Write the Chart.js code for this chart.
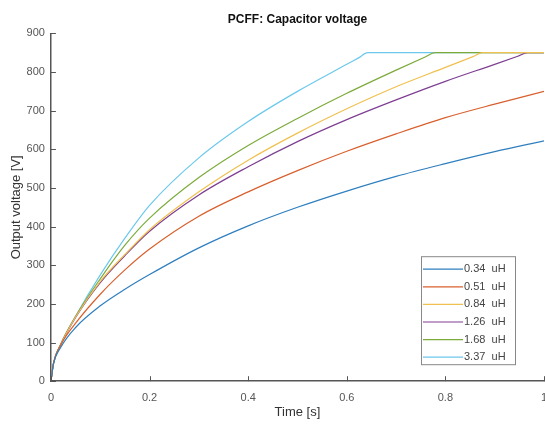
<!doctype html>
<html>
  <head>
    <script src="https://cdn.jsdelivr.net/npm/chart.js@4.4.1/dist/chart.umd.min.js"></script>
    <style>
      html, body { margin: 0; padding: 0; overflow: hidden; background: #fff; }
    </style>
    <script>
      // time axis in seconds, shared by all curves
      let times = [0, 0.005, 0.02, 0.05, 0.1, 0.15, 0.2, 0.3, 0.4, 0.5, 0.6, 0.7, 0.8, 0.9, 1.0];

      let labels = ['0.34  uH', '0.51  uH', '0.84  uH', '1.26  uH', '1.68  uH', '3.37  uH'];
      let colors = ['#2f7fbf', '#d9602e', '#f0c050', '#7e3f92', '#7cab3c', '#6cc8ec'];

      let v034 = [0, 44, 88, 139, 195, 238, 276, 345, 402, 450, 492, 530, 563, 594, 622];
      let v051 = [0, 46, 94, 150, 225, 288, 342, 427, 490, 545, 595, 640, 682, 717, 750];
      let v084 = [0, 45, 95, 166, 258, 328, 392, 490, 572, 642, 705, 762, 812, 850, 850];
      let v126 = [0, 45, 95, 165, 255, 325, 388, 482, 555, 620, 677, 728, 776, 820, 850];
      let v168 = [0, 45, 96, 168, 265, 352, 422, 527, 610, 680, 745, 805, 850, 850, 850];
      let v337 = [0, 45, 96, 168, 275, 370, 455, 578, 672, 750, 820, 850, 850, 850, 850];

      // where each curve hits the 850 V limit (null = never), plus a reading just before it
      let limitTimes = [null, null, 0.876, 0.967, 0.779, 0.643];
      let nearLimitTimes = [null, null, 0.856, 0.947, 0.759, 0.623];
      let nearLimitVolts = [null, null, 840, 841, 839, 836];
      let limitVolt = 850;

      let yTicks = [0, 100, 200, 300, 400, 500, 600, 700, 800, 900];
      let xTicks = [0, 0.2, 0.4, 0.6, 0.8, 1];

      function makePoints(i, vals){
        let pts = times.map((t, k) => ({x: t, y: vals[k]}));
        if(limitTimes[i] != null){
          pts.push({x: nearLimitTimes[i], y: nearLimitVolts[i]});
          pts.push({x: limitTimes[i], y: limitVolt});
          pts.sort((a, b) => a.x - b.x);
        }
        return pts;
      }

      // inward tick marks + legend box inside the plot
      let extrasPlugin = {
        id: 'extras',
        afterDraw(chart){
          let ctx = chart.ctx;
          let area = chart.chartArea;
          let xs = chart.scales.x, ys = chart.scales.y;
          ctx.save();
          ctx.strokeStyle = '#555';
          ctx.lineWidth = 1;
          ctx.beginPath();
          yTicks.forEach(v => {
            let py = Math.round(ys.getPixelForValue(v)) + 0.5;
            ctx.moveTo(area.left, py); ctx.lineTo(area.left + 5, py);
          });
          xTicks.forEach(v => {
            let px = Math.round(xs.getPixelForValue(v)) + 0.5;
            ctx.moveTo(px, area.bottom); ctx.lineTo(px, area.bottom - 5);
          });
          ctx.stroke();

          // legend
          let bx = area.right - 123, by = area.bottom - 125, bw = 94, bh = 108;
          ctx.fillStyle = '#fff';
          ctx.fillRect(bx, by, bw, bh);
          ctx.strokeStyle = '#888';
          ctx.strokeRect(bx + 0.5, by + 0.5, bw, bh);
          ctx.font = '11px "Liberation Sans", Arial, sans-serif';
          ctx.textBaseline = 'middle';
          chart.data.datasets.forEach((ds, i) => {
            let ry = by + 13 + i * 17.6;
            ctx.strokeStyle = ds.borderColor;
            ctx.lineWidth = 1.2;
            ctx.beginPath();
            ctx.moveTo(bx + 2, ry); ctx.lineTo(bx + 42, ry);
            ctx.stroke();
            ctx.fillStyle = '#444';
            ctx.fillText(ds.label, bx + 43, ry);
          });
          ctx.restore();
        }
      };

      let chart1;
      function startPage(){
        let series = [v034, v051, v084, v126, v168, v337];
        chart1 = new Chart(document.getElementById('c1'), {
          type: 'line',
          data: {
            datasets: series.map((vals, i) => ({
              label: labels[i],
              data: makePoints(i, vals),
              borderColor: colors[i],
              borderWidth: 1.2,
              pointRadius: 0,
              cubicInterpolationMode: 'monotone',
              fill: false
            }))
          },
          options: {
            responsive: false,
            animation: false,
            layout: { padding: { left: 5, right: 16, top: 2, bottom: 4 } },
            plugins: {
              legend: { display: false },
              tooltip: { enabled: false },
              title: {
                display: true,
                text: 'PCFF: Capacitor voltage',
                fullSize: false,
                color: '#111',
                font: { family: '"Liberation Sans", Arial, sans-serif', size: 12, weight: 'bold' },
                padding: { top: 10, bottom: 7 }
              }
            },
            scales: {
              x: {
                type: 'linear',
                min: 0, max: 1,
                afterBuildTicks: s => { s.ticks = xTicks.map(v => ({value: v})); },
                ticks: {
                  color: '#555',
                  padding: 10,
                  maxRotation: 0,
                  font: { family: '"Liberation Sans", Arial, sans-serif', size: 11 },
                  callback: v => String(v)
                },
                grid: { display: false, drawTicks: false },
                border: { display: true, color: '#555', width: 1.5 },
                title: {
                  display: true,
                  text: 'Time [s]',
                  color: '#333',
                  font: { family: '"Liberation Sans", Arial, sans-serif', size: 13 },
                  padding: { top: -10, bottom: 4 }
                }
              },
              y: {
                min: 0, max: 900,
                afterBuildTicks: s => { s.ticks = yTicks.map(v => ({value: v})); },
                ticks: {
                  color: '#555',
                  padding: 6,
                  font: { family: '"Liberation Sans", Arial, sans-serif', size: 11 }
                },
                grid: { display: false, drawTicks: false },
                border: { display: true, color: '#555', width: 1.5 },
                title: {
                  display: true,
                  text: 'Output voltage [V]',
                  color: '#333',
                  font: { family: '"Liberation Sans", Arial, sans-serif', size: 13 },
                  padding: { top: 4, bottom: -4 }
                }
              }
            }
          },
          plugins: [extrasPlugin]
        });
      }
    </script>
  </head>
  <body onload="startPage()">
    <canvas id="c1" width="560" height="428" style="width:560px;height:428px;display:block"></canvas>
  </body>
</html>
